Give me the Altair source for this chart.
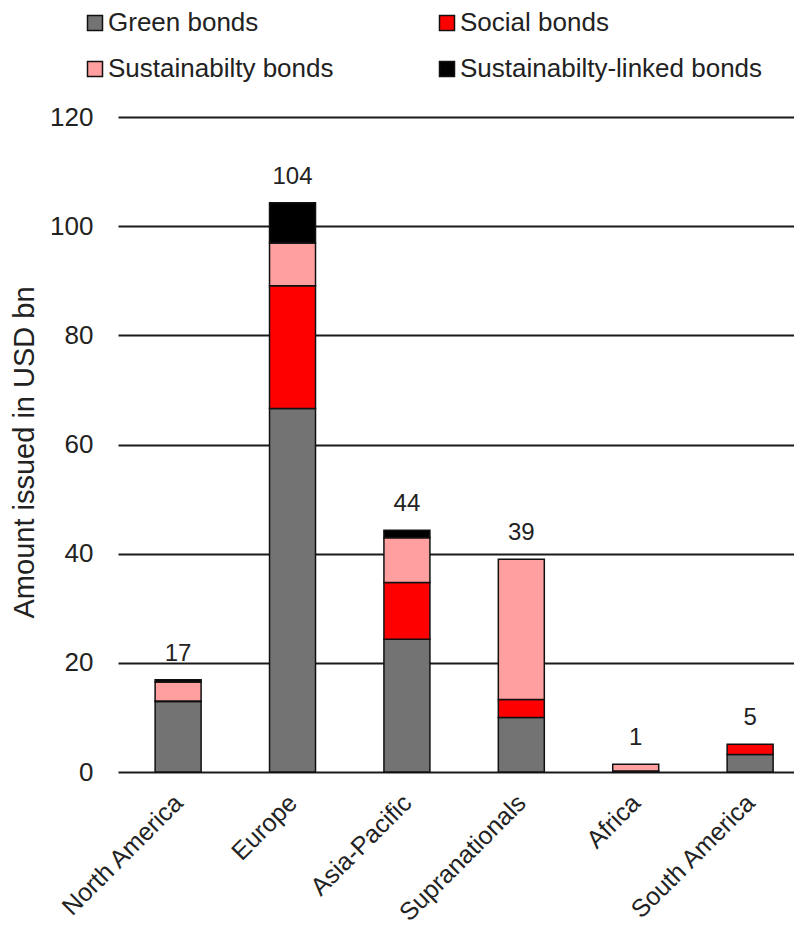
import altair as alt
import pandas as pd

regions = ["North America", "Europe", "Asia-Pacific", "Supranationals", "Africa", "South America"]
series = ["Green bonds", "Social bonds", "Sustainabilty bonds", "Sustainabilty-linked bonds"]
green = [12.9, 66.6, 24.3, 10.0, 0.2, 3.2]
social = [0.1, 22.5, 10.4, 3.3, 0.0, 1.9]
sustain = [3.5, 7.8, 8.2, 25.7, 1.2, 0.0]
linked = [0.4, 7.4, 1.4, 0.0, 0.0, 0.0]
colors = ["#737373", "#ff0000", "#ff9f9f", "#000000"]
y_ticks = [0, 20, 40, 60, 80, 100, 120]

rows = []
for i, r in enumerate(regions):
    for k, (s, vals) in enumerate(zip(series, [green, social, sustain, linked])):
        rows.append({"region": r, "series": s, "value": vals[i], "order": k})
df = pd.DataFrame(rows)

FONT = "Liberation Sans"

xscale = alt.Scale(domain=regions, paddingInner=0.598, paddingOuter=0.2535, align=0.64)
x = alt.X("region:N", sort=regions, scale=xscale,
          axis=alt.Axis(title=None, labelAngle=-45, labelFontSize=25, labelColor="#222222",
                        labelPadding=18, labelOffset=-8, ticks=False, domain=False, grid=False))

bars = alt.Chart(df).transform_filter("datum.value > 0").mark_bar(
    stroke="#111111", strokeWidth=1.5
).encode(
    x=x,
    y=alt.Y("value:Q", stack="zero",
            scale=alt.Scale(domain=[0, 120], nice=False),
            axis=alt.Axis(values=y_ticks, title="Amount issued in USD bn",
                          titleFontSize=29, titleFontWeight="normal", titleColor="#222222",
                          titleAngle=-90, titleAlign="left", titleBaseline="alphabetic",
                          titleX=-85, titleY=501,
                          labelFontSize=26, labelColor="#222222", labelPadding=25,
                          ticks=False, domain=False, grid=True, gridColor="#1a1a1a",
                          gridWidth=1.8)),
    color=alt.Color("series:N", sort=series,
                    scale=alt.Scale(domain=series, range=colors),
                    legend=alt.Legend(title=None, orient="none", legendX=-36, legendY=-107,
                                      direction="horizontal",
                                      columns=2, columnPadding=100, rowPadding=20,
                                      labelFontSize=26, labelColor="#222222", labelLimit=500,
                                      labelOffset=0, symbolType="square", symbolSize=225,
                                      symbolStrokeColor="#111111", symbolStrokeWidth=1.5)),
    order=alt.Order("order:Q", sort="ascending"),
)

labels = alt.Chart(df).transform_aggregate(
    total="sum(value)", groupby=["region"]
).mark_text(fontSize=24, color="#222222", baseline="alphabetic", dy=-19).encode(
    x=alt.X("region:N", sort=regions, scale=xscale),
    y=alt.Y("total:Q"),
    text=alt.Text("total:Q", format=".0f"),
)

chart = alt.layer(bars, labels).properties(
    width=676, height=655,
    autosize=alt.AutoSizeParams(type="none"),
    padding={"left": 110, "top": 109, "right": 0, "bottom": 155},
).configure(font=FONT).configure_view(stroke=None)

chart.save("out.html", embed_options={"renderer": "svg", "actions": False})
